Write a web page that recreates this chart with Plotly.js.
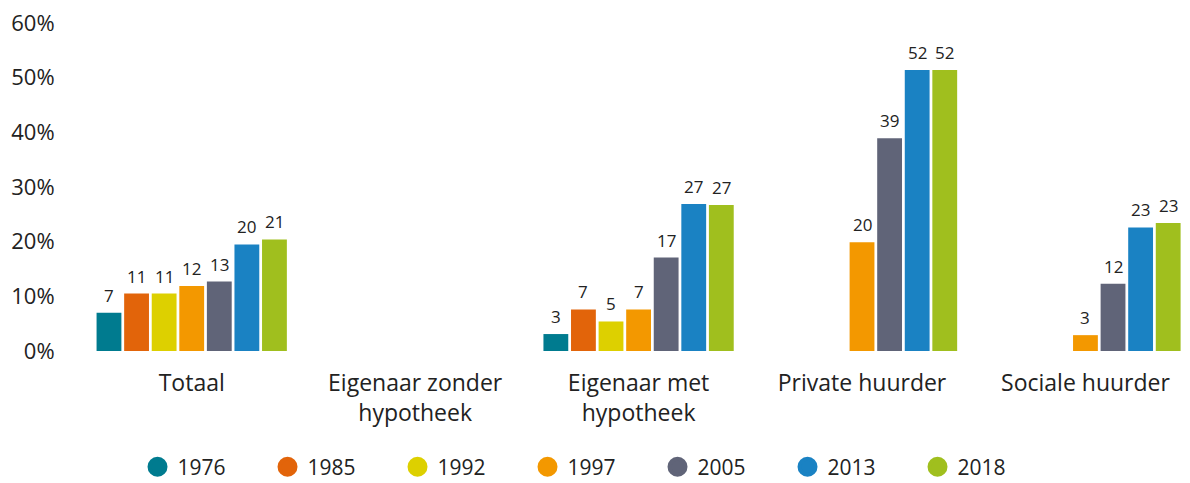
<!DOCTYPE html>
<html><head><meta charset="utf-8">
<script src="https://cdn.plot.ly/plotly-3.0.1.min.js"></script>
<style>body{margin:0;background:#fff}#chart{width:1190px;height:483px}</style>
</head><body><div id="chart"></div>
<script>
const categories = ['Totaal','Eigenaar zonder<br>hypotheek','Eigenaar met<br>hypotheek','Private huurder','Sociale huurder'];
const years = ['1976','1985','1992','1997','2005','2013','2018'];
const colors = ['#007B8F','#E2640A','#DDD000','#F39800','#606478','#1A82C3','#A0BF1E'];
const v1976 = [7.0, null, 3.1, null, null];
const v1985 = [10.5, null, 7.6, null, null];
const v1992 = [10.5, null, 5.4, null, null];
const v1997 = [11.9, null, 7.6, 19.9, 2.9];
const v2005 = [12.7, null, 17.1, 38.9, 12.3];
const v2013 = [19.5, null, 26.9, 51.4, 22.6];
const v2018 = [20.4, null, 26.7, 51.4, 23.4];
const l1976 = ['7', '', '3', '', ''];
const l1985 = ['11', '', '7', '', ''];
const l1992 = ['11', '', '5', '', ''];
const l1997 = ['12', '', '7', '20', '3'];
const l2005 = ['13', '', '17', '39', '12'];
const l2013 = ['20', '', '27', '52', '23'];
const l2018 = ['21', '', '27', '52', '23'];
const values = [v1976, v1985, v1992, v1997, v2005, v2013, v2018];
const labels = [l1976, l1985, l1992, l1997, l2005, l2013, l2018];

const FONT = 'Open Sans, sans-serif';
const TXT = '#222222';
const bargap = 0.136;
const n = years.length;
const traces = [];
const annotations = [];
years.forEach((y, j) => {
  traces.push({type:'bar', x:[0,1,2,3,4], y:values[j], marker:{color:colors[j]}, showlegend:false, hoverinfo:'skip'});
  traces.push({type:'scatter', mode:'markers', x:[null], y:[null], name:y,
    marker:{color:colors[j], size:16, symbol:'circle', line:{color:colors[j], width:4}}, showlegend:true});
  values[j].forEach((v, i) => {
    if (v === null) return;
    annotations.push({xref:'x', yref:'y', x: i + (-0.5 + (j + 0.5) / n) * (1 - bargap), y: v,
      text: labels[j][i], showarrow:false, yanchor:'bottom', yshift:4,
      font:{family:FONT, size:17, color:TXT}});
  });
});

const layout = {
  width:1190, height:483,
  margin:{l:80, r:4, t:23, b:132},
  paper_bgcolor:'#fff', plot_bgcolor:'#fff',
  barmode:'group', bargap:bargap, bargroupgap:0.1,
  font:{family:FONT, color:TXT, size:20},
  xaxis:{type:'linear', range:[-0.5, 4.45], tickvals:[0,1,2,3,4], ticktext:categories,
    showgrid:false, zeroline:false, showline:false, ticks:'outside', ticklen:11, tickcolor:'rgba(0,0,0,0)',
    tickfont:{family:FONT, size:23, color:TXT}, fixedrange:true},
  yaxis:{range:[0,60], dtick:10, ticksuffix:'%', showgrid:false, zeroline:false, showline:false,
    ticks:'outside', ticklen:20, tickcolor:'rgba(0,0,0,0)',
    tickfont:{family:FONT, size:22, color:TXT}, fixedrange:true},
  legend:{orientation:'h', x:0.052, xanchor:'left', yref:'container', y:0.033, yanchor:'middle',
    font:{family:FONT, size:21, color:TXT}, entrywidth:85, entrywidthmode:'pixels', itemclick:false},
  annotations:annotations,
  showlegend:true
};
Plotly.newPlot('chart', traces, layout, {displayModeBar:false, staticPlot:true});
</script></body></html>
